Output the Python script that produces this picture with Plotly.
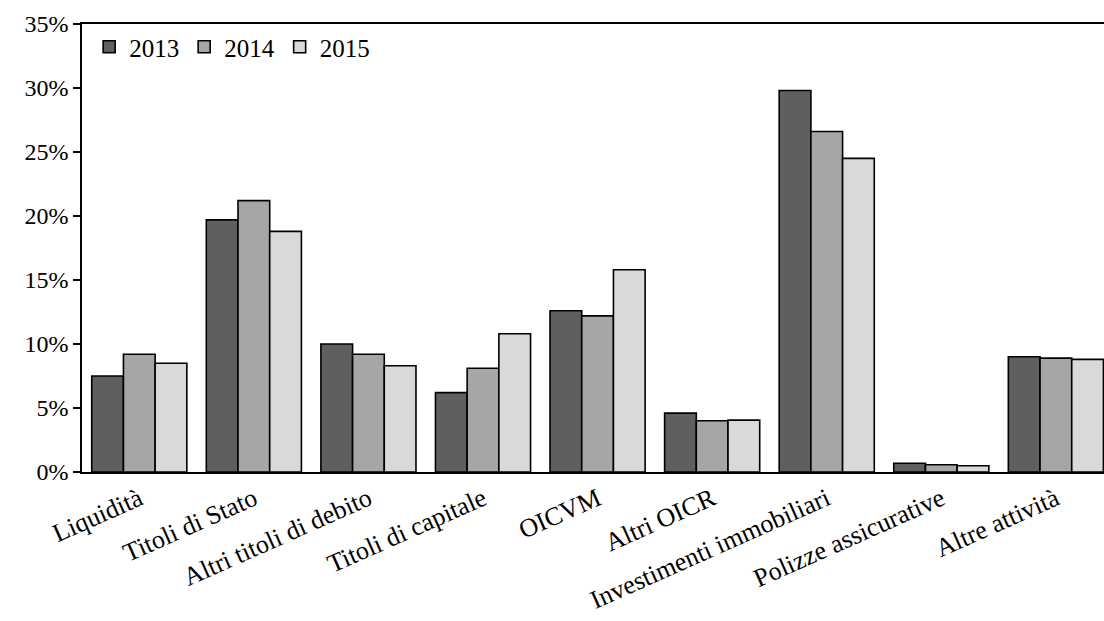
import plotly.graph_objects as go

categories = ["Liquidità", "Titoli di Stato", "Altri titoli di debito", "Titoli di capitale",
              "OICVM", "Altri OICR", "Investimenti immobiliari", "Polizze assicurative",
              "Altre attività"]
years = ["2013", "2014", "2015"]
v2013 = [7.5, 19.7, 10.0, 6.2, 12.6, 4.6, 29.8, 0.68, 9.0]
v2014 = [9.2, 21.2, 9.2, 8.1, 12.2, 4.0, 26.6, 0.57, 8.9]
v2015 = [8.5, 18.8, 8.3, 10.8, 15.8, 4.05, 24.5, 0.49, 8.8]
values = [v2013, v2014, v2015]
colors = ["#5f5f5f", "#a6a6a6", "#d9d9d9"]
tick_vals = [0, 5, 10, 15, 20, 25, 30, 35]
tick_text = ["0%", "5%", "10%", "15%", "20%", "25%", "30%", "35%"]

FONT = "Liberation Serif"

fig = go.Figure()
for y, vals, c in zip(years, values, colors):
    fig.add_trace(go.Bar(
        x=list(range(len(categories))), y=vals, name=y,
        marker=dict(color=c, line=dict(color="black", width=1.6)),
    ))

fig.update_layout(
    width=1104, height=621,
    margin=dict(l=82, r=0, t=24, b=149),
    paper_bgcolor="white", plot_bgcolor="white",
    barmode="group", bargap=0.17, bargroupgap=0,
    font=dict(family=FONT, size=24, color="black"),
    showlegend=True,
    legend=dict(orientation="h", x=0.007, y=1.0, xanchor="left", yanchor="top",
                font=dict(family=FONT, size=25, color="black"),
                bgcolor="rgba(0,0,0,0)", tracegroupgap=0),
    xaxis=dict(
        tickmode="array", tickvals=list(range(len(categories))), ticktext=categories,
        range=[-0.5, 8.42], tickangle=-24, showgrid=False, zeroline=False,
        showline=True, mirror=True, linecolor="black", linewidth=1.5,
        ticks="", tickfont=dict(family=FONT, size=26, color="black"),
    ),
    yaxis=dict(
        range=[0, 35], tickmode="array", tickvals=tick_vals, ticktext=tick_text,
        showgrid=False, zeroline=False, showline=True, linecolor="black", linewidth=1.5,
        ticks="outside", ticklen=7, tickwidth=1.5, tickcolor="black",
        tickfont=dict(family=FONT, size=24, color="black"),
    ),
)

fig.write_html("out.html", config={"displayModeBar": False},
               post_script="document.body.style.margin='0';document.body.style.overflow='hidden';")
